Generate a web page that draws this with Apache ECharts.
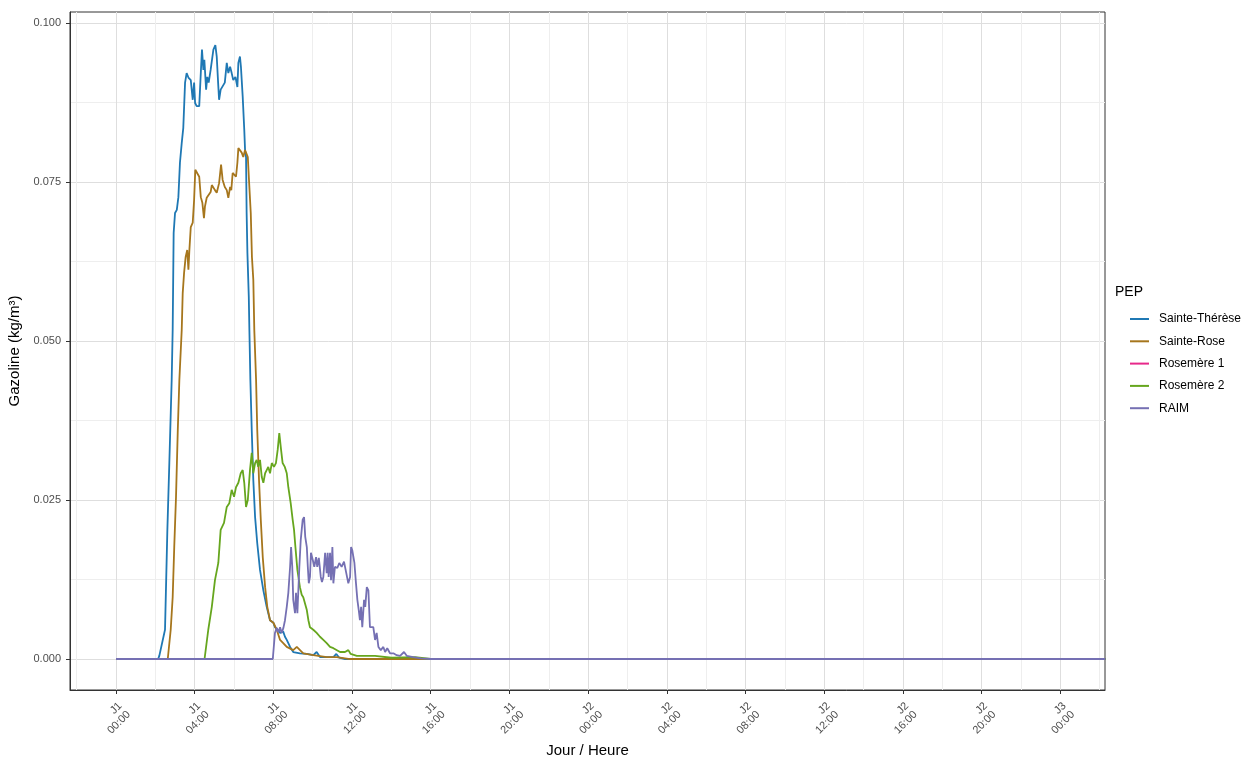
<!DOCTYPE html>
<html>
<head>
<meta charset="utf-8">
<script src="https://cdn.jsdelivr.net/npm/echarts@6/dist/echarts.min.js"></script>
<style>
  html, body { margin: 0; background: #fff; }
  #chart { width: 1245px; height: 757px; }
</style>
</head>
<body>
<div id="chart"></div>
<script>
// axes (heures depuis J1 00:00)
var xTicks = [0, 4, 8, 12, 16, 20, 24, 28, 32, 36, 40, 44, 48];
var xMinor = [-2, 2, 6, 10, 14, 18, 22, 26, 30, 34, 38, 42, 46, 50];
var yTicks = [0, 0.025, 0.05, 0.075, 0.1];
var yMinor = [0.0125, 0.0375, 0.0625, 0.0875];

var noms = ['Sainte-Thérèse', 'Sainte-Rose', 'Rosemère 1', 'Rosemère 2', 'RAIM'];
var couleurs = ['#1F78B4', '#A6761D', '#E7298A', '#66A61E', '#7570B3'];

// [heure, gazoline kg/m3]
var sainteTherese = [
  [0, 0], [2.14, 0], [2.20, 0.0005], [2.49, 0.0046], [2.61, 0.0203], [2.71, 0.0308],
  [2.83, 0.0439], [2.88, 0.0517], [2.93, 0.0670], [3.00, 0.0701], [3.09, 0.0706],
  [3.17, 0.0726], [3.25, 0.0780], [3.34, 0.0811], [3.42, 0.0835], [3.51, 0.0906],
  [3.59, 0.0921], [3.68, 0.0914], [3.80, 0.0910], [3.90, 0.0879], [3.97, 0.0906],
  [4.02, 0.0874], [4.10, 0.0869], [4.23, 0.0869], [4.31, 0.0921], [4.37, 0.0958],
  [4.44, 0.0926], [4.49, 0.0942], [4.58, 0.0895], [4.64, 0.0915], [4.71, 0.0906],
  [4.81, 0.0926], [4.95, 0.0958], [5.05, 0.0965], [5.12, 0.0947], [5.19, 0.0906],
  [5.24, 0.0879], [5.32, 0.0895], [5.42, 0.0893], [5.53, 0.0906], [5.63, 0.0937],
  [5.71, 0.0921], [5.80, 0.0931], [5.88, 0.0921], [5.96, 0.0910], [6.07, 0.0915],
  [6.17, 0.0899], [6.22, 0.0937], [6.30, 0.0947], [6.35, 0.0931], [6.44, 0.0884],
  [6.52, 0.0832], [6.56, 0.0800], [6.61, 0.0789], [6.64, 0.0701], [6.68, 0.0638],
  [6.75, 0.0569], [6.78, 0.0517], [6.83, 0.0439], [6.90, 0.0360], [6.98, 0.0281],
  [7.07, 0.0223], [7.18, 0.0182], [7.32, 0.0140], [7.49, 0.0108], [7.66, 0.0082],
  [7.83, 0.0061], [8.00, 0.0057], [8.08, 0.0050], [8.34, 0.0041], [8.50, 0.0043],
  [8.59, 0.0035], [8.68, 0.0030], [8.85, 0.0019], [9.01, 0.0011], [9.35, 0.0009],
  [9.70, 0.0008], [10.03, 0.0006], [10.20, 0.0011], [10.37, 0.0003], [10.71, 0.0003],
  [11.05, 0.0003], [11.20, 0.0008], [11.35, 0.0002], [11.64, 0], [50.3, 0]
];
var sainteRose = [
  [0, 0], [2.63, 0], [2.66, 0.0003], [2.78, 0.0046], [2.88, 0.0097], [2.96, 0.0176],
  [3.05, 0.0255], [3.14, 0.0360], [3.22, 0.0439], [3.34, 0.0517], [3.39, 0.0575],
  [3.46, 0.0607], [3.54, 0.0632], [3.62, 0.0643], [3.68, 0.0612], [3.73, 0.0643],
  [3.80, 0.0679], [3.90, 0.0686], [3.97, 0.0722], [4.03, 0.0769], [4.13, 0.0770],
  [4.23, 0.0758], [4.31, 0.0726], [4.39, 0.0717], [4.47, 0.0693], [4.52, 0.0711],
  [4.61, 0.0725], [4.71, 0.0726], [4.81, 0.0734], [4.87, 0.0745], [4.95, 0.0745],
  [5.03, 0.0737], [5.12, 0.0733], [5.24, 0.0748], [5.34, 0.0777], [5.42, 0.0753],
  [5.53, 0.0742], [5.63, 0.0737], [5.71, 0.0725], [5.80, 0.0742], [5.86, 0.0737],
  [5.93, 0.0764], [6.00, 0.0766], [6.10, 0.0758], [6.17, 0.0780], [6.22, 0.0803],
  [6.30, 0.0805], [6.39, 0.0796], [6.47, 0.0789], [6.56, 0.0800], [6.64, 0.0803],
  [6.70, 0.0789], [6.76, 0.0753], [6.85, 0.0701], [6.91, 0.0632], [6.98, 0.0596],
  [7.03, 0.0517], [7.12, 0.0439], [7.18, 0.0360], [7.27, 0.0281], [7.36, 0.0219],
  [7.46, 0.0160], [7.58, 0.0113], [7.69, 0.0082], [7.83, 0.0061], [8.00, 0.0057],
  [8.17, 0.0046], [8.34, 0.0030], [8.50, 0.0025], [8.68, 0.0019], [9.01, 0.0014],
  [9.19, 0.0019], [9.52, 0.0009], [10.03, 0.0006], [10.71, 0.0003], [11.22, 0.0003],
  [11.90, 0], [50.3, 0]
];
// Rosemère 1 : aucune valeur visible dans la figure
var rosemere1 = [];
var rosemere2 = [
  [0, 0], [4.50, 0], [4.69, 0.0046], [4.87, 0.0082], [5.03, 0.0124], [5.20, 0.0151],
  [5.32, 0.0203], [5.37, 0.0206], [5.49, 0.0214], [5.63, 0.0239], [5.76, 0.0245],
  [5.88, 0.0266], [6.00, 0.0255], [6.10, 0.0270], [6.22, 0.0277], [6.34, 0.0292],
  [6.44, 0.0297], [6.52, 0.0277], [6.61, 0.0239], [6.70, 0.0250], [6.81, 0.0297],
  [6.90, 0.0324], [6.98, 0.0292], [7.07, 0.0308], [7.15, 0.0313], [7.23, 0.0302],
  [7.32, 0.0313], [7.41, 0.0286], [7.49, 0.0277], [7.58, 0.0292], [7.66, 0.0297],
  [7.74, 0.0302], [7.83, 0.0292], [7.92, 0.0308], [8.03, 0.0302], [8.13, 0.0308],
  [8.22, 0.0329], [8.30, 0.0355], [8.39, 0.0329], [8.47, 0.0308], [8.58, 0.0302],
  [8.68, 0.0292], [8.76, 0.0270], [8.88, 0.0245], [8.98, 0.0219], [9.05, 0.0203],
  [9.12, 0.0176], [9.22, 0.0140], [9.35, 0.0113], [9.44, 0.0101], [9.52, 0.0097],
  [9.70, 0.0077], [9.78, 0.0061], [9.86, 0.0050], [10.03, 0.0046], [10.20, 0.0041],
  [10.28, 0.0042], [10.37, 0.0035], [10.54, 0.0030], [10.71, 0.0025], [10.88, 0.0019],
  [11.05, 0.0017], [11.39, 0.0011], [11.64, 0.0011], [11.81, 0.0014], [11.93, 0.0008],
  [12.24, 0.0005], [13.17, 0.0005], [14.0, 0.0002], [15.2, 0.0003], [16.0, 0], [50.3, 0]
];
var raim = [
  [0, 0], [7.97, 0], [8.08, 0.0041], [8.17, 0.0049], [8.25, 0.0042], [8.34, 0.0050],
  [8.42, 0.0041], [8.51, 0.0049], [8.59, 0.0061], [8.68, 0.0082], [8.76, 0.0104],
  [8.85, 0.0145], [8.90, 0.0176], [8.96, 0.0145], [9.01, 0.0093], [9.10, 0.0072],
  [9.15, 0.0104], [9.22, 0.0072], [9.32, 0.0145], [9.39, 0.0187], [9.49, 0.0219],
  [9.56, 0.0223], [9.62, 0.0192], [9.70, 0.0176], [9.75, 0.0145], [9.80, 0.0119],
  [9.86, 0.0129], [9.91, 0.0167], [10.00, 0.0156], [10.08, 0.0145], [10.17, 0.0160],
  [10.23, 0.0145], [10.31, 0.0159], [10.41, 0.0129], [10.47, 0.0121], [10.54, 0.0129],
  [10.63, 0.0167], [10.71, 0.0135], [10.76, 0.0167], [10.81, 0.0129], [10.88, 0.0167],
  [10.93, 0.0124], [11.00, 0.0176], [11.05, 0.0119], [11.13, 0.0145], [11.25, 0.0143],
  [11.35, 0.0151], [11.47, 0.0145], [11.59, 0.0153], [11.69, 0.0151], [11.81, 0.0119],
  [11.90, 0.0129], [11.95, 0.0176], [12.01, 0.0171], [12.12, 0.0151], [12.20, 0.0119],
  [12.27, 0.0093], [12.34, 0.0077], [12.40, 0.0061], [12.46, 0.0082], [12.52, 0.0050],
  [12.61, 0.0093], [12.67, 0.0082], [12.75, 0.0113], [12.83, 0.0108], [12.91, 0.0050],
  [13.08, 0.0050], [13.17, 0.0030], [13.25, 0.0041], [13.34, 0.0019], [13.46, 0.0014],
  [13.59, 0.0019], [13.68, 0.0011], [13.79, 0.0017], [13.93, 0.0009], [14.10, 0.0009],
  [14.18, 0.0011], [14.27, 0.0006], [14.44, 0.0005], [14.64, 0.0011], [14.78, 0.0005],
  [15.11, 0.0003], [15.5, 0.0001], [16.0, 0], [18.1, 0], [18.15, 0.0003], [18.2, 0],
  [20.25, 0], [20.3, 0.0003], [20.35, 0], [50.3, 0]
];
var valeurs = [sainteTherese, sainteRose, rosemere1, rosemere2, raim];

var police = 'Arial, "Liberation Sans", sans-serif';

function etiquetteHeure(v) {
    var h = Math.round(v);
    var hh = h % 24;
    return 'J' + (Math.floor(h / 24) + 1) + '\n' + (hh < 10 ? '0' : '') + hh + ':00';
}

var myChart = echarts.init(document.getElementById('chart'));

var option = {
    animation: false,
    backgroundColor: '#fff',
    textStyle: { fontFamily: police },
    title: {
        text: 'PEP',
        left: 1110,
        top: 280,
        textStyle: { fontFamily: police, fontSize: 14, fontWeight: 'normal', color: '#000' }
    },
    legend: {
        orient: 'vertical',
        left: 1125,
        top: 303,
        icon: 'rect',
        itemWidth: 19,
        itemHeight: 2,
        itemGap: 0.3,
        data: noms,
        textStyle: { fontFamily: police, fontSize: 12, color: '#000', lineHeight: 22, padding: [0, 0, 0, 5] }
    },
    grid: {
        left: 70, right: 140, top: 12, bottom: 67,
        outerBoundsMode: 'none',
        containLabel: false,
        show: true, borderColor: '#333', borderWidth: 1
    },
    xAxis: [
        {
            type: 'value',
            min: -2.34, max: 50.28,
            name: 'Jour / Heure',
            nameLocation: 'middle',
            nameGap: 52,
            nameTextStyle: { fontFamily: police, fontSize: 15, color: '#000' },
            axisLine: { show: true, onZero: false, lineStyle: { color: '#333', width: 1 } },
            axisTick: { show: true, length: 4, lineStyle: { color: '#333' }, customValues: xTicks },
            axisLabel: {
                customValues: xTicks,
                rotate: 45,
                margin: 10,
                verticalAlign: 'top',
                fontSize: 11,
                lineHeight: 12,
                color: '#4D4D4D',
                formatter: etiquetteHeure
            },
            splitLine: { show: true, lineStyle: { color: '#dedede', width: 1 } }
        },
        {
            type: 'value',
            min: -2.34, max: 50.28,
            axisLine: { show: false, onZero: false },
            axisTick: { show: false, customValues: xMinor },
            axisLabel: { show: false, customValues: xMinor },
            splitLine: { show: true, lineStyle: { color: '#eeeeee', width: 1 } }
        }
    ],
    yAxis: [
        {
            type: 'value',
            min: -0.00487, max: 0.1017,
            name: 'Gazoline (kg/m³)',
            nameLocation: 'middle',
            nameGap: 42,
            nameTextStyle: { fontFamily: police, fontSize: 15, color: '#000' },
            axisLine: { show: true, onZero: false, lineStyle: { color: '#333', width: 1 } },
            axisTick: { show: true, length: 4, lineStyle: { color: '#333' }, customValues: yTicks },
            axisLabel: {
                customValues: yTicks,
                margin: 9,
                fontSize: 11,
                color: '#4D4D4D',
                formatter: function (v) { return v.toFixed(3); }
            },
            splitLine: { show: true, lineStyle: { color: '#dedede', width: 1 } }
        },
        {
            type: 'value',
            min: -0.00487, max: 0.1017,
            axisLine: { show: false, onZero: false },
            axisTick: { show: false, customValues: yMinor },
            axisLabel: { show: false, customValues: yMinor },
            splitLine: { show: true, lineStyle: { color: '#eeeeee', width: 1 } }
        }
    ],
    series: noms.map(function (nom, i) {
        return {
            name: nom,
            type: 'line',
            xAxisIndex: 0,
            yAxisIndex: 0,
            data: valeurs[i],
            showSymbol: false,
            symbol: 'none',
            clip: true,
            color: couleurs[i],
            lineStyle: { width: 1.8, color: couleurs[i] }
        };
    })
};

myChart.setOption(option);
</script>
</body>
</html>
